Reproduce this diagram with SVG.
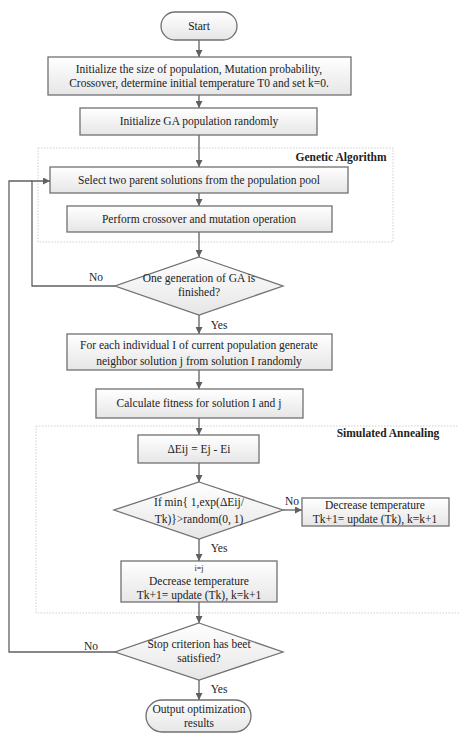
<svg xmlns="http://www.w3.org/2000/svg" width="459" height="733" viewBox="0 0 459 733">
<defs>
<linearGradient id="g" x1="0" y1="0" x2="0" y2="1">
<stop offset="0" stop-color="#ffffff"/>
<stop offset="1" stop-color="#e6e6e6"/>
</linearGradient>
<marker id="a" viewBox="0 0 10 10" refX="10" refY="5" markerWidth="7" markerHeight="7" orient="auto" markerUnits="userSpaceOnUse">
<path d="M0,0 L10,5 L0,10 z" fill="#606060"/>
</marker>
<style>
.n{fill:url(#g);stroke:#707070;stroke-width:1.3}
.t{font-family:"Liberation Serif","Times New Roman",serif;font-size:11.5px;fill:#222;text-anchor:middle}
.b{font-family:"Liberation Serif","Times New Roman",serif;font-size:11.5px;font-weight:bold;fill:#222;text-anchor:middle}
.r{fill:none;stroke:#cfcfcf;stroke-width:1;stroke-dasharray:1.5 1.5}
.c{fill:none;stroke:#606060;stroke-width:1.3}
</style>
</defs>
<rect width="459" height="733" fill="#ffffff"/>
<g id="region-ga"><rect class="r" x="38" y="148" width="355" height="94"/><text class="b" x="341" y="161">Genetic Algorithm</text></g>
<g id="region-sa"><rect class="r" x="36" y="426" width="430" height="187"/><text class="b" x="388" y="437">Simulated Annealing</text></g>
<g id="connectors">
<line class="c" x1="199" y1="40" x2="199" y2="57" marker-end="url(#a)"/>
<line class="c" x1="199" y1="95" x2="199" y2="108" marker-end="url(#a)"/>
<line class="c" x1="199" y1="135" x2="199" y2="167" marker-end="url(#a)"/>
<line class="c" x1="199" y1="193" x2="199" y2="206" marker-end="url(#a)"/>
<line class="c" x1="199" y1="232" x2="199" y2="257" marker-end="url(#a)"/>
<line class="c" x1="199" y1="315" x2="199" y2="334" marker-end="url(#a)"/>
<line class="c" x1="199" y1="370" x2="199" y2="389" marker-end="url(#a)"/>
<line class="c" x1="199" y1="418" x2="199" y2="435" marker-end="url(#a)"/>
<line class="c" x1="199" y1="463" x2="199" y2="482" marker-end="url(#a)"/>
<line class="c" x1="283" y1="510" x2="302" y2="510" marker-end="url(#a)"/>
<line class="c" x1="199" y1="539" x2="199" y2="561" marker-end="url(#a)"/>
<line class="c" x1="199" y1="602" x2="199" y2="623" marker-end="url(#a)"/>
<line class="c" x1="199" y1="680" x2="199" y2="700" marker-end="url(#a)"/>
<polyline class="c" points="115,286 32,286 32,181 50,181" marker-end="url(#a)"/>
<polyline class="c" points="115,652 9,652 9,181 32,181"/>
<text class="t" x="96" y="281">No</text>
<text class="t" x="219" y="329">Yes</text>
<text class="t" x="292" y="505">No</text>
<text class="t" x="219" y="552">Yes</text>
<text class="t" x="91" y="650">No</text>
<text class="t" x="219" y="693">Yes</text>
</g>
<g id="start"><rect class="n" x="161" y="12" width="76" height="28" rx="14"/><text class="t" x="199" y="30">Start</text></g>
<g id="init"><rect class="n" x="48" y="57" width="303" height="38"/><text class="t" x="199" y="73">Initialize the size of population, Mutation probability,</text><text class="t" x="199" y="87">Crossover, determine initial temperature T0 and set k=0.</text></g>
<g id="init-ga"><rect class="n" x="80" y="108" width="237" height="27"/><text class="t" x="199" y="125">Initialize GA population randomly</text></g>
<g id="select"><rect class="n" x="50" y="167" width="298" height="26"/><text class="t" x="199" y="184">Select two parent solutions from the population pool</text></g>
<g id="crossover"><rect class="n" x="67" y="206" width="265" height="26"/><text class="t" x="199" y="223">Perform crossover and mutation operation</text></g>
<g id="dec-ga"><polygon class="n" points="199,257 283,286 199,315 115,286"/><text class="t" x="199" y="282">One generation of GA is</text><text class="t" x="199" y="296">finished?</text></g>
<g id="neighbor"><rect class="n" x="67" y="334" width="265" height="36"/><text class="t" x="199" y="349">For each individual I of current population generate</text><text class="t" x="199" y="365">neighbor solution j from solution I randomly</text></g>
<g id="fitness"><rect class="n" x="96" y="389" width="207" height="29"/><text class="t" x="199" y="407">Calculate fitness for solution I and j</text></g>
<g id="delta"><rect class="n" x="138" y="435" width="121" height="28"/><text class="t" x="199" y="453">ΔEij = Ej - Ei</text></g>
<g id="dec-sa"><polygon class="n" points="199,482 283,510 199,539 114,510"/><text class="t" x="199" y="506">If min{ 1,exp(ΔEij/</text><text class="t" x="199" y="523">Tk)}&gt;random(0, 1)</text></g>
<g id="decrease-no"><rect class="n" x="302" y="498" width="147" height="28"/><text class="t" x="375" y="509">Decrease temperature</text><text class="t" x="375" y="523">Tk+1= update (Tk), k=k+1</text></g>
<g id="decrease-yes"><rect class="n" x="121" y="561" width="156" height="41"/><text class="t" x="199" y="571" style="font-size:8px">i=j</text><text class="t" x="199" y="585">Decrease temperature</text><text class="t" x="199" y="599">Tk+1= update (Tk), k=k+1</text></g>
<g id="dec-stop"><polygon class="n" points="199,623 283,652 199,680 115,652"/><text class="t" x="199" y="648">Stop criterion has beet</text><text class="t" x="199" y="662">satisfied?</text></g>
<g id="end"><rect class="n" x="146" y="700" width="105" height="32" rx="16"/><text class="t" x="199" y="713">Output optimization</text><text class="t" x="199" y="727">results</text></g>
</svg>
